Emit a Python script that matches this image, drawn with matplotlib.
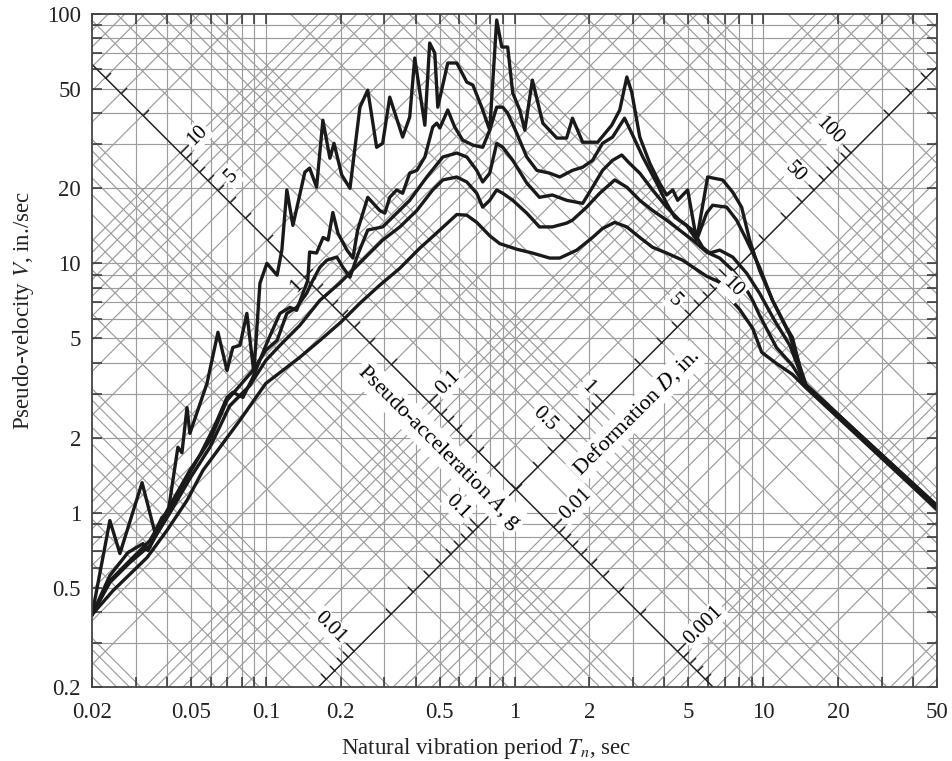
import numpy as np
import matplotlib.pyplot as plt
from matplotlib.path import Path
from matplotlib.ticker import FixedLocator, NullFormatter

plt.rcParams['font.family'] = ['Liberation Serif', 'DejaVu Serif']
plt.rcParams['mathtext.fontset'] = 'stix'

G = 386.1  # in./sec^2

# response spectra, top curve (no damping) to bottom curve
T1 = [0.02, 0.0236, 0.0259, 0.0318, 0.0358, 0.0382, 0.0404, 0.0443, 0.046, 0.0482, 0.0495,
      0.058, 0.0642, 0.0698, 0.0737, 0.0787, 0.0839, 0.0895, 0.0947, 0.101, 0.111, 0.116,
      0.1215, 0.1285, 0.1435, 0.150, 0.160, 0.1696, 0.181, 0.188, 0.202, 0.218, 0.239, 0.257,
      0.279, 0.295, 0.315, 0.355, 0.379, 0.397, 0.436, 0.456, 0.478, 0.4915, 0.539, 0.586,
      0.643, 0.680, 0.738, 0.795, 0.848, 0.889, 0.939, 0.984, 1.05, 1.10, 1.18, 1.30, 1.48,
      1.62, 1.71, 1.88, 2.16, 2.46, 2.65, 2.83, 2.96, 3.19, 3.50, 3.83, 4.09, 4.33, 4.53,
      4.97, 5.40, 5.98, 6.87, 7.54, 8.19, 8.82, 9.67, 10.9, 12.4, 13.1, 14.0, 14.9, 50]
V1 = [0.39, 0.93, 0.686, 1.32, 0.833, 0.957, 0.993, 1.83, 1.74, 2.64, 2.08,
      3.30, 5.29, 3.72, 4.60, 4.69, 6.30, 3.65, 8.32, 10.0, 8.96, 11.3,
      19.7, 14.2, 23.2, 24.1, 20.2, 37.5, 26.4, 30.3, 22.6, 20.0, 42.3, 49.5,
      29.2, 30.3, 46.4, 32.1, 38.6, 66.6, 35.8, 76.5, 69.7, 42.3, 63.6, 63.6,
      53.3, 51.9, 42.3, 34.2, 94.6, 73.7, 73.7, 48.2, 41.2, 34.2, 54.3, 36.5, 31.8,
      31.8, 38.2, 30.6, 30.6, 35.8, 41.2, 55.9, 48.6, 32.1, 25.2, 21.0, 18.8, 19.7, 17.9,
      19.7, 12.4, 22.2, 21.6, 19.3, 16.8, 12.4, 9.38, 7.11, 5.54, 5.05, 3.90, 3.24, 1.07]

T2 = [0.02, 0.0236, 0.0279, 0.0321, 0.0336, 0.0375, 0.0451, 0.0543, 0.0624, 0.0698, 0.0737,
      0.0809, 0.0887, 0.102, 0.114, 0.125, 0.133, 0.141, 0.1475, 0.150, 0.160, 0.170, 0.178,
      0.186, 0.195, 0.212, 0.224, 0.234, 0.257, 0.287, 0.301, 0.315, 0.336, 0.355, 0.379,
      0.405, 0.436, 0.469, 0.487, 0.501, 0.539, 0.575, 0.619, 0.680, 0.745, 0.795, 0.848,
      0.897, 0.939, 1.02, 1.12, 1.23, 1.385, 1.52, 1.71, 1.88, 2.06, 2.26, 2.48, 2.77, 2.96,
      3.28, 3.73, 4.09, 4.41, 4.92, 5.40, 5.92, 6.26, 7.13, 7.82, 8.58, 9.67, 10.9, 12.8,
      14.7, 50]
V2 = [0.39, 0.56, 0.692, 0.752, 0.705, 0.872, 1.23, 1.70, 2.24, 2.90, 3.04,
      2.90, 3.49, 4.91, 6.30, 6.66, 6.48, 7.59, 8.55, 11.1, 11.0, 12.7, 12.4,
      16.0, 13.2, 11.3, 10.5, 13.6, 18.4, 16.3, 15.9, 18.4, 19.7, 19.1, 23.0,
      23.6, 26.7, 35.2, 36.5, 34.9, 41.2, 35.2, 31.2, 29.8, 29.2, 34.2, 42.3,
      42.3, 40.0, 33.3, 26.7, 23.6, 23.0, 22.2, 23.6, 24.3, 25.9, 30.3, 32.1, 38.2, 33.3,
      26.7, 21.0, 17.4, 15.3, 14.2, 12.4, 15.9, 17.1, 16.8, 14.9, 12.4, 9.65, 7.11, 5.15,
      3.30, 1.06]

T3 = [0.02, 0.0236, 0.0284, 0.0342, 0.0412, 0.0495, 0.0596, 0.0698, 0.0787, 0.0887, 0.100,
      0.111, 0.1215, 0.133, 0.146, 0.1545, 0.165, 0.176, 0.193, 0.204, 0.218, 0.234, 0.257,
      0.295, 0.336, 0.379, 0.444, 0.515, 0.586, 0.643, 0.705, 0.745, 0.795, 0.848, 0.897,
      0.984, 1.12, 1.26, 1.42, 1.62, 1.88, 2.06, 2.26, 2.48, 2.70, 2.90, 3.19, 3.59, 4.09,
      4.61, 5.20, 5.71, 6.09, 6.68, 7.54, 8.58, 9.67, 11.1, 12.8, 14.7, 50]
V3 = [0.39, 0.534, 0.643, 0.774, 1.07, 1.48, 1.95, 2.82, 3.24, 3.72, 4.48,
      4.91, 6.30, 6.66, 7.59, 8.55, 9.65, 10.3, 10.6, 9.65, 8.80, 10.8, 13.6,
      14.0, 15.9, 17.9, 22.2, 26.7, 27.7, 26.7, 23.6, 21.2, 23.0, 30.3, 29.2,
      25.9, 21.0, 18.4, 18.8, 17.9, 17.4, 20.2, 23.6, 25.9, 27.2, 25.2, 23.0, 19.7, 16.8,
      14.9, 13.6, 11.6, 11.0, 11.3, 10.6, 9.13, 7.59, 5.91, 4.69, 3.27, 1.05]

T4 = [0.02, 0.0236, 0.0284, 0.0342, 0.0412, 0.0495, 0.0596, 0.0717, 0.0863, 0.100, 0.114,
      0.137, 0.165, 0.198, 0.245, 0.295, 0.346, 0.405, 0.469, 0.515, 0.586, 0.643, 0.705,
      0.745, 0.795, 0.848, 0.897, 0.984, 1.12, 1.26, 1.42, 1.62, 1.71, 1.95, 2.20, 2.53,
      2.83, 3.19, 3.59, 4.09, 4.61, 5.20, 5.92, 6.68, 7.54, 8.27, 9.07, 9.67, 11.3, 13.1,
      14.7, 50]
V4 = [0.39, 0.525, 0.631, 0.739, 1.00, 1.37, 1.83, 2.69, 3.24, 4.08, 4.69,
      5.64, 7.11, 8.32, 10.3, 12.4, 14.0, 16.3, 19.7, 21.6, 22.2, 21.2, 19.1,
      16.8, 17.9, 19.7, 19.1, 17.9, 15.9, 14.0, 14.0, 14.5, 14.9, 16.8, 19.1, 21.6,
      20.2, 17.9, 16.3, 14.9, 13.6, 12.4, 11.1, 10.5, 9.38, 8.32, 7.11, 6.19, 4.60, 3.90,
      3.24, 1.04]

T5 = [0.02, 0.0243, 0.0333, 0.0400, 0.0482, 0.0559, 0.0654, 0.0787, 0.100, 0.137, 0.165,
      0.200, 0.239, 0.287, 0.346, 0.416, 0.501, 0.586, 0.643, 0.705, 0.795, 0.872, 1.02,
      1.18, 1.385, 1.52, 1.78, 2.06, 2.26, 2.53, 2.83, 3.19, 3.59, 4.09, 4.74, 5.30, 5.92,
      6.68, 7.33, 8.04, 9.07, 9.86, 11.3, 13.1, 14.8, 50]
V5 = [0.39, 0.487, 0.661, 0.848, 1.12, 1.48, 1.83, 2.35, 3.30, 4.20, 4.91,
      5.80, 6.92, 8.17, 9.56, 11.5, 13.6, 15.7, 15.6, 14.6, 12.9, 12.0, 11.4,
      11.0, 10.5, 10.5, 11.3, 12.7, 13.8, 14.6, 14.0, 12.7, 11.6, 11.0, 10.3, 9.56, 8.88,
      8.40, 7.24, 6.54, 5.49, 4.40, 3.97, 3.59, 3.18, 1.03]

curves = [(T1, V1), (T2, V2), (T3, V3), (T4, V4), (T5, V5)]

x_major = [0.02, 0.05, 0.1, 0.2, 0.5, 1, 2, 5, 10, 20, 50]
x_major_labels = ['0.02', '0.05', '0.1', '0.2', '0.5', '1', '2', '5', '10', '20', '50']
y_major = [0.2, 0.5, 1, 2, 5, 10, 20, 50, 100]
y_major_labels = ['0.2', '0.5', '1', '2', '5', '10', '20', '50', '100']

# diagonal scales
D_axis = 0.2        # the acceleration scale runs along D = 0.2 in.
A_axis = 0.02       # the deformation scale runs along A = 0.02 g
A_label_vals = [10, 5, 0.1, 0.01, 0.001]
A_label_text = ['10', '5', '0.1', '0.01', '0.001']
D_label_vals = [0.01, 0.1, 0.5, 1, 5, 50, 100]
D_label_text = ['0.01', '0.1', '0.5', '1', '5', '50', '100']

grid_vals = np.array([m * 10.0 ** e for e in range(-5, 4) for m in range(1, 10)])

fig = plt.figure(figsize=(9.52, 7.61), dpi=100)
ax = fig.add_axes([92 / 952, 1 - 687 / 761, 845 / 952, 673 / 761])
ax.set_xscale('log')
ax.set_yscale('log')
ax.set_xlim(0.02, 50)
ax.set_ylim(0.2, 100)

gc = '#9c9c9c'
glw = 0.85
Tl = np.array([0.01, 100.0])
for t in grid_vals[(grid_vals > 0.02) & (grid_vals < 50)]:
    ax.axvline(t, color=gc, lw=glw, zorder=1)
for v in grid_vals[(grid_vals > 0.2) & (grid_vals < 100)]:
    ax.axhline(v, color=gc, lw=glw, zorder=1)
for d in grid_vals[(grid_vals > 0.0005) & (grid_vals < 900)]:
    ax.plot(Tl, 2 * np.pi * d / Tl, color=gc, lw=glw, zorder=1)
for a in grid_vals[(grid_vals > 0.00005) & (grid_vals < 90)]:
    ax.plot(Tl, a * G * Tl / (2 * np.pi), color=gc, lw=glw, zorder=1)

# black scale lines
ax.plot(Tl, 2 * np.pi * D_axis / Tl, color='#222222', lw=1.0, zorder=2)
ax.plot(Tl, A_axis * G * Tl / (2 * np.pi), color='#222222', lw=1.0, zorder=2)


def on_A_scale(a):
    return 2 * np.pi * np.sqrt(D_axis / (a * G)), np.sqrt(a * G * D_axis)


def on_D_scale(d):
    return 2 * np.pi * np.sqrt(d / (A_axis * G)), np.sqrt(A_axis * G * d)


tick_up_right = Path([(0, 0), (1, 1)])
tick_up_left = Path([(0, 0), (-1, 1)])
for vals, fn, mk in [(grid_vals[(grid_vals > 0.0005) & (grid_vals < 50)], on_A_scale, tick_up_right),
                     (grid_vals[(grid_vals > 0.005) & (grid_vals < 500)], on_D_scale, tick_up_left)]:
    major = np.isclose(np.log10(vals), np.round(np.log10(vals)))
    tt, vv = fn(vals)
    ax.plot(tt[~major], vv[~major], ls='none', marker=mk, ms=8, mew=1.0, mec='#222222', zorder=2)
    ax.plot(tt[major], vv[major], ls='none', marker=mk, ms=12, mew=1.0, mec='#222222', zorder=2)

box = dict(fc='white', ec='none', pad=1.5)
lab_fs = 15
for val, txt in zip(A_label_vals, A_label_text):
    ax.annotate(txt, xy=on_A_scale(val), xytext=(10, 10), textcoords='offset pixels',
                rotation=45, rotation_mode='anchor', ha='left', va='center',
                fontsize=lab_fs, bbox=box, zorder=6)
ax.annotate('1', xy=on_A_scale(1), xytext=(-8, -9), textcoords='offset pixels',
            rotation=45, rotation_mode='anchor', ha='center', va='center',
            fontsize=lab_fs, zorder=6)
for val, txt in zip(D_label_vals, D_label_text):
    ax.annotate(txt, xy=on_D_scale(val), xytext=(-11, 11), textcoords='offset pixels',
                rotation=-45, rotation_mode='anchor', ha='right', va='center',
                fontsize=lab_fs, bbox=box, zorder=6)
ax.annotate('10', xy=on_D_scale(10), xytext=(6, -10), textcoords='offset pixels',
            rotation=-45, rotation_mode='anchor', ha='center', va='center',
            fontsize=lab_fs, bbox=box, zorder=6)

ax.annotate('Pseudo-acceleration $A$, g', xy=on_A_scale(0.06), xytext=(-17, -17),
            textcoords='offset pixels', rotation=-45, rotation_mode='anchor',
            ha='center', va='center', fontsize=16, bbox=dict(fc='white', ec='none', pad=2), zorder=6)
ax.annotate('Deformation $D$, in.', xy=on_D_scale(1.25), xytext=(22, -22),
            textcoords='offset pixels', rotation=45, rotation_mode='anchor',
            ha='center', va='center', fontsize=16, bbox=dict(fc='white', ec='none', pad=2), zorder=6)

for T, V in curves:
    ax.plot(T, V, color='#1a1a1a', lw=2.4, zorder=5, solid_joinstyle='round')

ax.xaxis.set_major_locator(FixedLocator(x_major))
ax.xaxis.set_minor_locator(FixedLocator(grid_vals[(grid_vals > 0.02) & (grid_vals < 50)]))
ax.yaxis.set_major_locator(FixedLocator(y_major))
ax.yaxis.set_minor_locator(FixedLocator(grid_vals[(grid_vals > 0.2) & (grid_vals < 100)]))
ax.set_xticklabels(x_major_labels)
ax.set_yticklabels(y_major_labels)
ax.xaxis.set_minor_formatter(NullFormatter())
ax.yaxis.set_minor_formatter(NullFormatter())
ax.tick_params(which='both', direction='in', top=True, right=True, length=7, width=1.1,
               color='#333333', labelsize=16.5, labelcolor='#222222')
ax.tick_params(axis='x', pad=11)
ax.tick_params(axis='y', pad=8)
for s in ax.spines.values():
    s.set_color('#444444')
    s.set_linewidth(1.3)
    s.set_zorder(7)

ax.set_xlabel('Natural vibration period $T_n$, sec', fontsize=16.5, labelpad=9, color='#222222')
ax.set_ylabel('Pseudo-velocity $V$, in./sec', fontsize=16.5, labelpad=8, color='#222222')
ax.xaxis.label.set_x(0.467)
ax.yaxis.label.set_y(0.56)

fig.savefig('out.png', dpi=100)
